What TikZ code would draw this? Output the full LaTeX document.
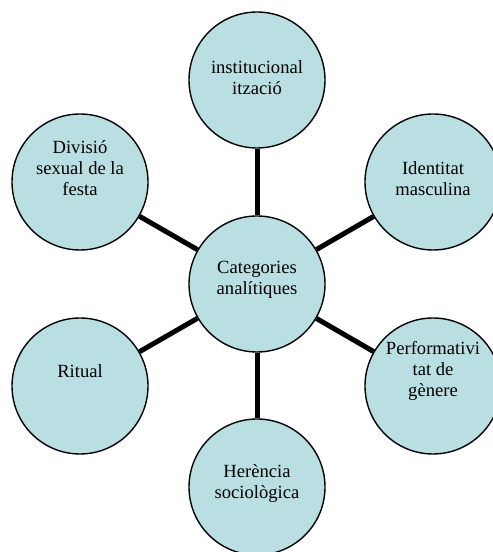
\documentclass[tikz,border=0pt]{standalone}
\usepackage{fontspec}
\setmainfont{Liberation Serif}
\definecolor{cfill}{HTML}{B9DFE3}
\begin{document}
\begin{tikzpicture}[x=1pt,y=1pt,
  cat/.style={circle,draw=black,line width=1.4pt,fill=cfill,minimum size=136pt,inner sep=0pt},
  lbl/.style={align=center,font=\fontsize{18.6}{21}\selectfont,inner sep=0pt},
  link/.style={line width=5pt,black}]
\useasboundingbox (0,0) rectangle (493,552);
\clip (0,0) rectangle (493,552);
% circles
\node[cat] (c) at (257,268) {};
\node[cat] (t) at (257,472) {};
\node[cat] (d) at (80,370) {};
\node[cat] (i) at (433,370) {};
\node[cat] (r) at (80,166) {};
\node[cat] (p) at (433,166) {};
\node[cat] (h) at (257,65) {};
% connectors
\draw[link] (c) -- (t);
\draw[link] (c) -- (d);
\draw[link] (c) -- (i);
\draw[link] (c) -- (r);
\draw[link] (c) -- (p);
\draw[link] (c) -- (h);
% labels
\node[lbl] (ct) at (257,272) {Categories\\analítiques};
\node[lbl] (tt) at (257,474.5) {institucional\\ització};
\node[lbl] (dt) at (80,384) {Divisió\\sexual de la\\festa};
\node[lbl] (it) at (433,373.5) {Identitat\\masculina};
\node[lbl] (rt) at (80,181) {Ritual};
\node[lbl] (pt) at (433,181) {Performativi\\tat de\\gènere};
\node[lbl] (ht) at (257,68.5) {Herència\\sociològica};
\end{tikzpicture}
\end{document}
